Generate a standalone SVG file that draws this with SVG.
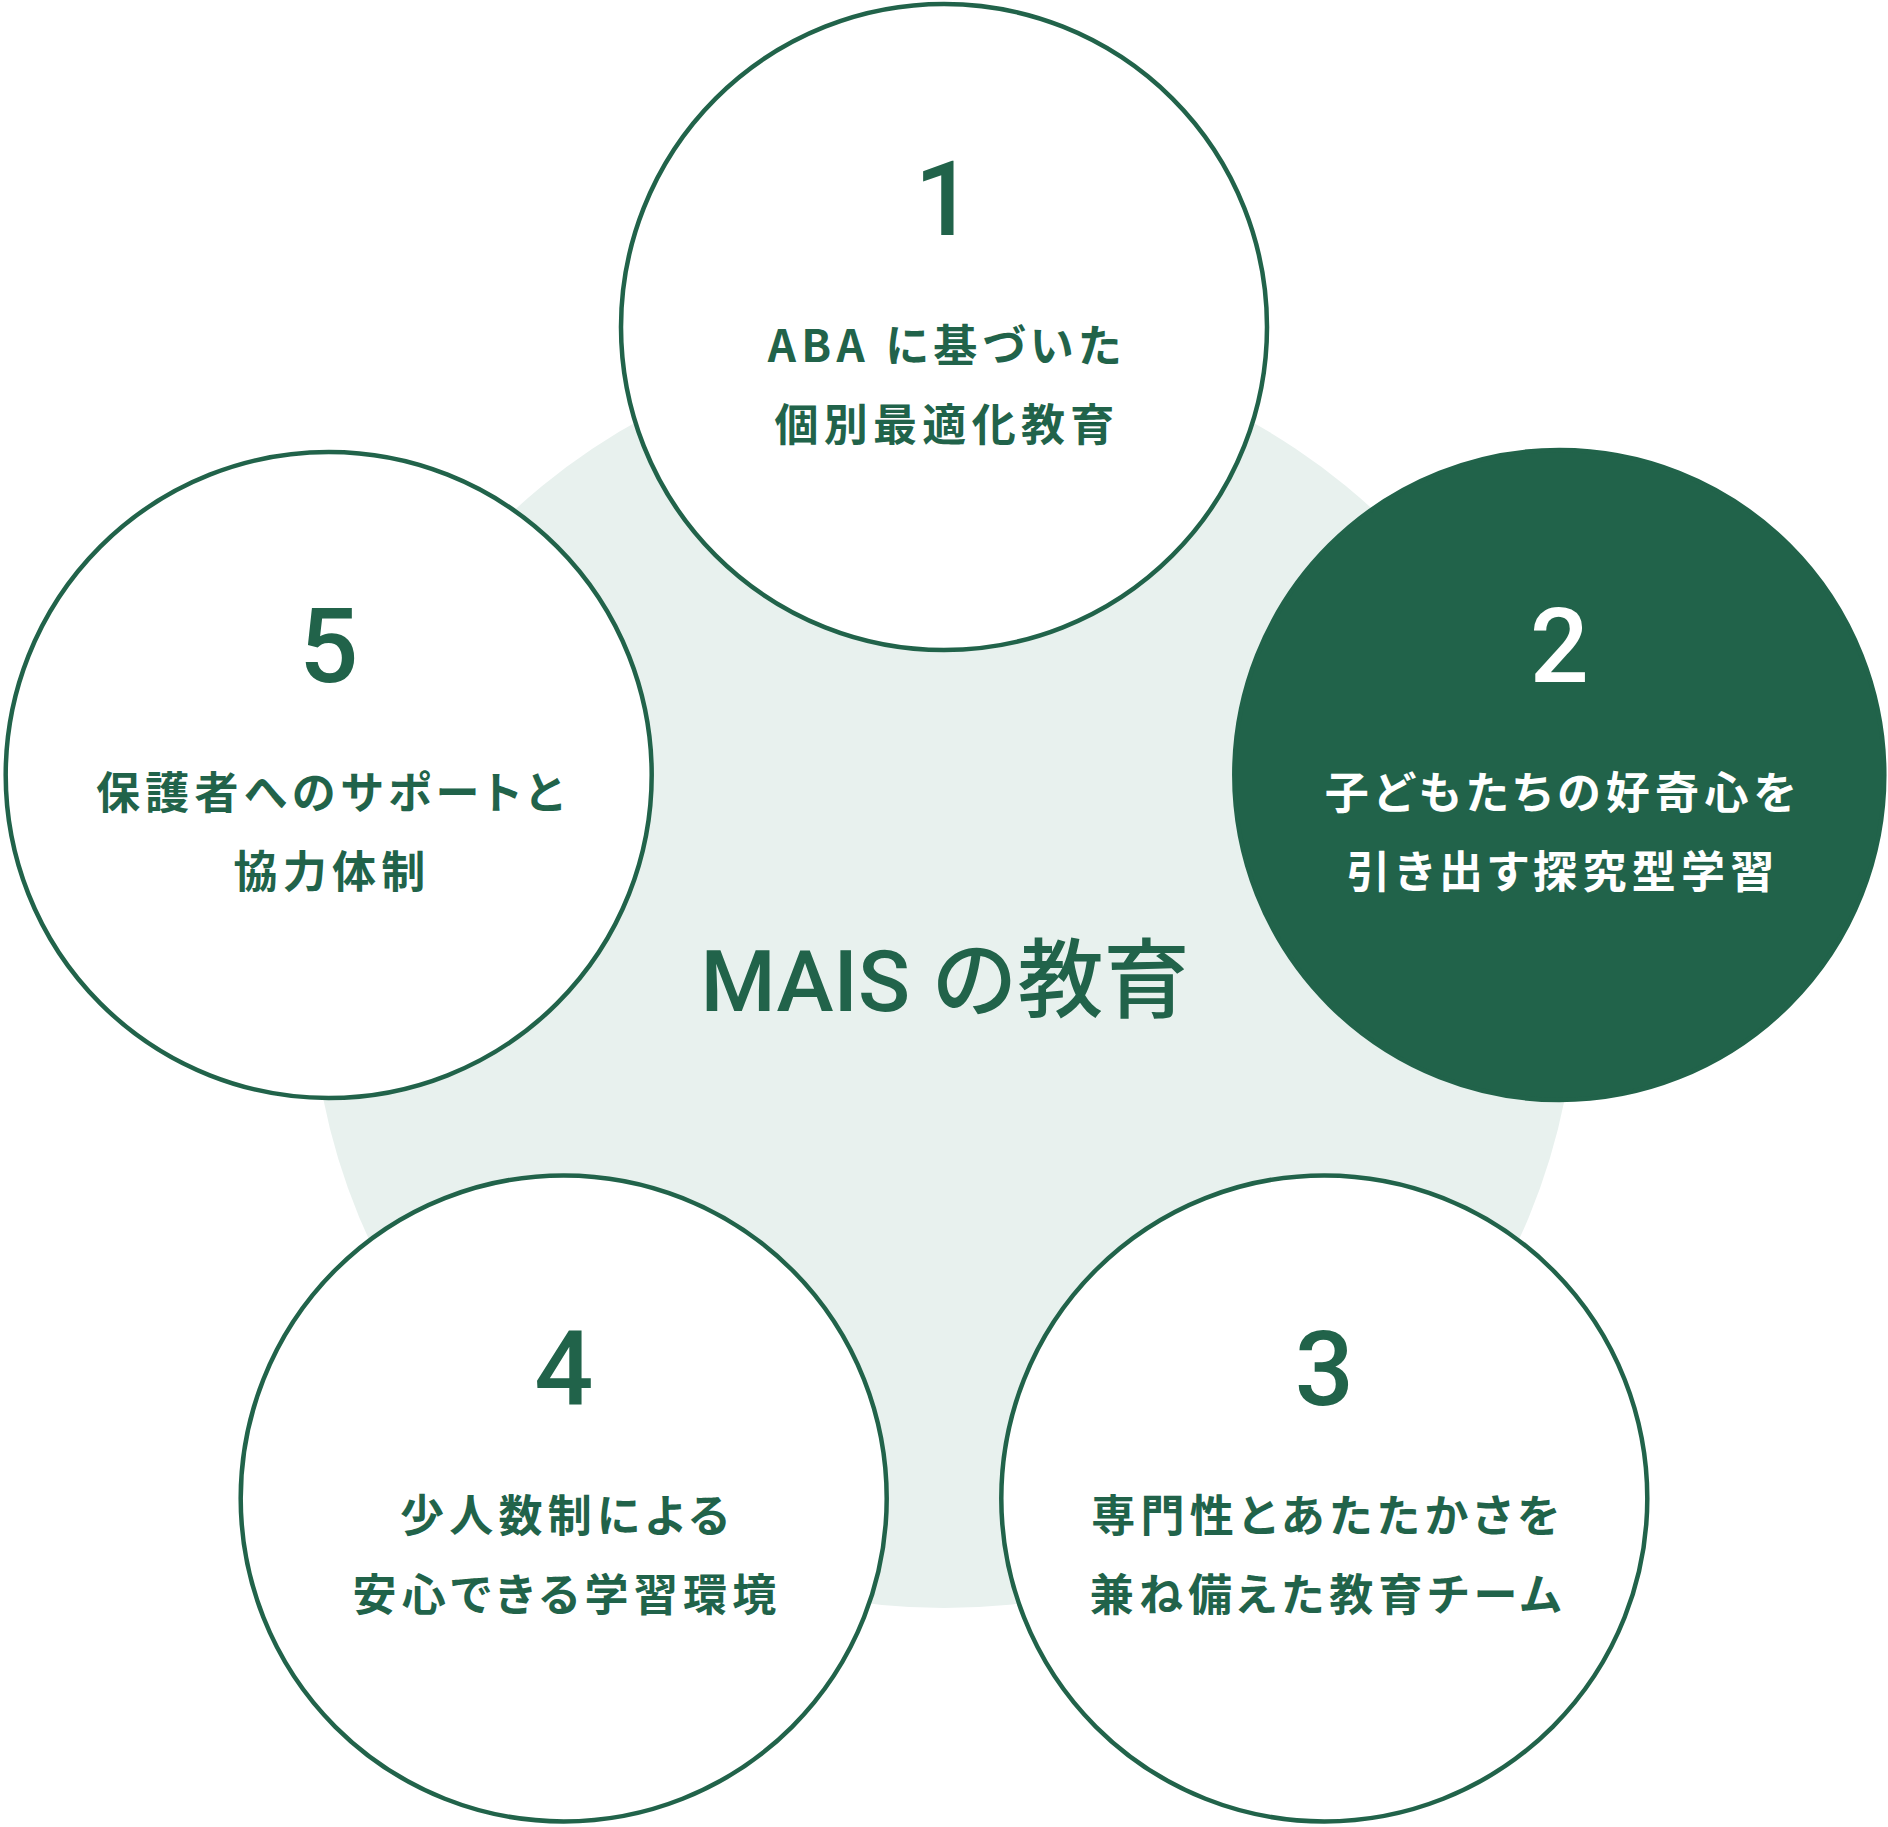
<svg xmlns="http://www.w3.org/2000/svg" width="1888" height="1827" viewBox="0 0 1888 1827">
<style>
.bg{fill:#E8F1EE}
.ring{fill:#FFFFFF;stroke:#21634A;stroke-width:4.5}
.solid{fill:#21634A;stroke:#21634A;stroke-width:4.5}
.num{font-family:Roboto,"Liberation Sans","Noto Sans CJK JP",sans-serif;font-weight:500;font-size:104px;text-anchor:middle;fill:#21634A}
.lbl{font-family:"Noto Sans CJK JP",sans-serif;font-weight:700;font-size:44px;letter-spacing:0.12em;font-feature-settings:"palt";text-anchor:middle;fill:#21634A}
.inv{fill:#FFFFFF}
.title{font-family:Roboto,"Noto Sans CJK JP",sans-serif;font-weight:500;font-size:86px;text-anchor:middle;fill:#21634A}
</style>
<rect width="1888" height="1827" fill="#FFFFFF"/>
<g id="center">
<circle class="bg" cx="944" cy="975" r="633"/>
<text class="title" x="945" y="1011">MAIS の教育</text>
</g>
<g id="connectors"></g>
<g id="node1">
<circle class="ring" cx="944" cy="327" r="323"/>
<text class="num" x="944" y="235">1</text>
<text class="lbl" x="947" y="362">ABA に基づいた</text>
<text class="lbl" x="947" y="441">個別最適化教育</text>
</g>
<g id="node2">
<circle class="solid" cx="1559.3" cy="775" r="325"/>
<text class="num inv" x="1559.3" y="682">2</text>
<text class="lbl inv" x="1563" y="809">子どもたちの好奇心を</text>
<text class="lbl inv" x="1563" y="888">引き出す探究型学習</text>
</g>
<g id="node3">
<circle class="ring" cx="1324.3" cy="1498.4" r="323"/>
<text class="num" x="1324.3" y="1405">3</text>
<text class="lbl" x="1328" y="1532">専門性とあたたかさを</text>
<text class="lbl" x="1328" y="1611">兼ね備えた教育チーム</text>
</g>
<g id="node4">
<circle class="ring" cx="563.7" cy="1498.4" r="323"/>
<text class="num" x="563.7" y="1405">4</text>
<text class="lbl" x="567" y="1532">少人数制による</text>
<text class="lbl" x="567" y="1611">安心できる学習環境</text>
</g>
<g id="node5">
<circle class="ring" cx="328.7" cy="775" r="323"/>
<text class="num" x="328.7" y="682">5</text>
<text class="lbl" x="332" y="809">保護者へのサポートと</text>
<text class="lbl" x="332" y="888">協力体制</text>
</g>
</svg>
